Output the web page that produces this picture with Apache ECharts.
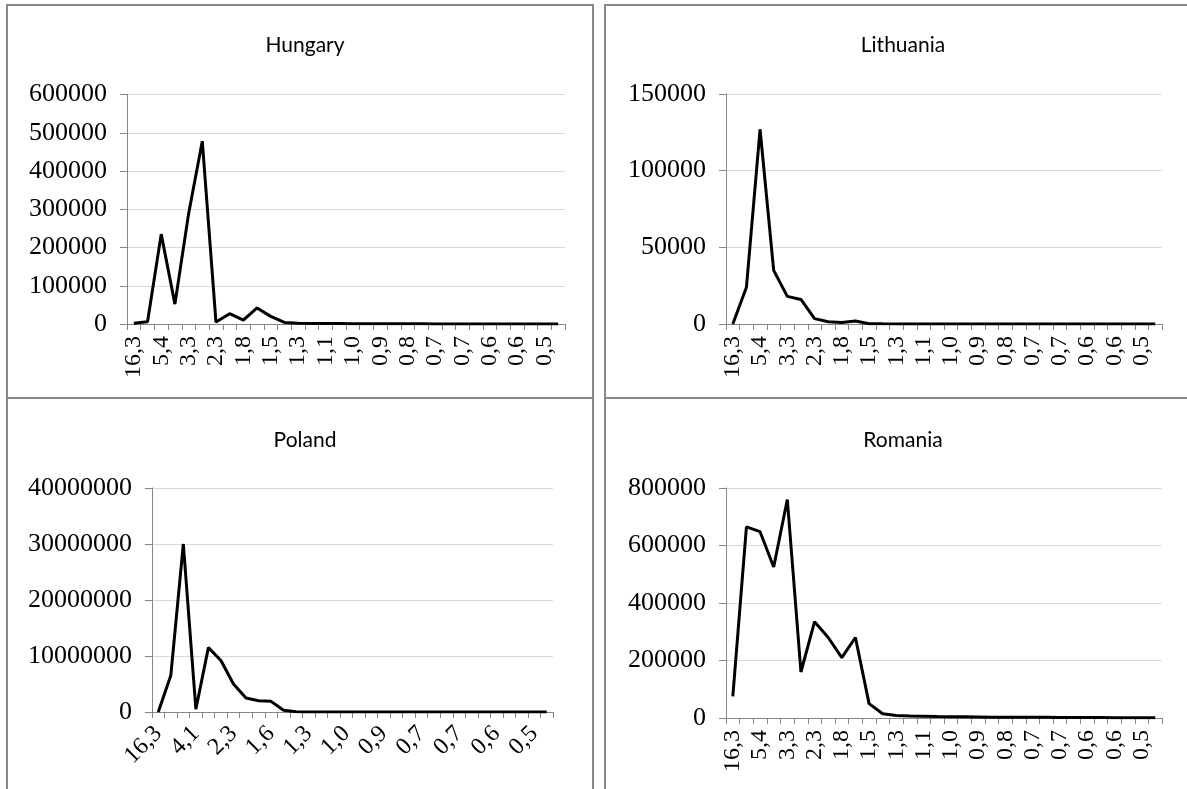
<!DOCTYPE html>
<html>
<head>
<meta charset="utf-8">
<script src="https://cdn.jsdelivr.net/npm/echarts@6/dist/echarts.min.js"></script>
<style>
html,body{margin:0;padding:0;background:#fff;}
#chart{width:1187px;height:789px;}
</style>
</head>
<body>
<div id="chart"></div>
<script>
// Category labels (size classes)
const categories = ["16,3","7,4","5,4","4,1","3,3","2,7","2,3","2,0","1,8","1,6","1,5","1,4","1,3","1,2","1,1","1,0","1,0","0,9","0,9","0,8","0,8","0,7","0,7","0,7","0,7","0,6","0,6","0,6","0,6","0,5","0,5","0,5"];

// Series values
const hungary = [2000,6000,235000,52000,288000,478000,5000,27000,10000,42000,20000,4000,2000,1500,1200,1000,800,700,600,500,400,350,300,250,200,180,160,140,120,100,90,80];
const lithuania = [0,24000,127000,35000,18000,16000,3500,1500,1000,2000,200,100,80,60,50,40,30,30,20,20,20,10,10,10,10,10,10,10,10,10,10,10];
const poland = [0,6500000,30000000,500000,11500000,9200000,5000000,2500000,2000000,1900000,300000,50000,20000,10000,8000,6000,5000,4000,3000,2500,2000,1500,1200,1000,800,600,500,400,300,200,150,100];
const romania = [75000,665000,648000,525000,760000,160000,335000,280000,210000,280000,50000,15000,9000,7000,6000,5000,4500,4000,3500,3000,2800,2600,2400,2200,2000,1800,1600,1400,1200,1000,800,600];

// Axis scales
const hungaryAxis = {max: 600000, interval: 100000};
const lithuaniaAxis = {max: 150000, interval: 50000};
const polandAxis = {max: 40000000, interval: 10000000};
const romaniaAxis = {max: 800000, interval: 200000};

const titles = ["Hungary","Lithuania","Poland","Romania"];

const chart = echarts.init(document.getElementById('chart'), null, {renderer:'canvas'});

const axisGray = '#868686';
const serif = 'Liberation Serif';

const grids = [
  {left:127, top:94.5, width:438, height:229.5},
  {left:726, top:94, width:436, height:230},
  {left:152, top:488, width:401, height:224},
  {left:726, top:488, width:436, height:230}
];

function xAxis(idx, labelInterval, rotate){
  return {
    type:'category', gridIndex:idx, data:categories, boundaryGap:true,
    axisLine:{show:true, lineStyle:{color:axisGray, width:1}},
    axisTick:{show:true, interval:0, length:6, lineStyle:{color:axisGray}},
    axisLabel:{interval:labelInterval, rotate:rotate, margin: rotate===90?12:18,
      fontFamily:serif, fontSize:24, color:'#000'},
    splitLine:{show:false}
  };
}
function yAxis(idx, ax){
  return {
    type:'value', gridIndex:idx, min:0, max:ax.max, interval:ax.interval,
    axisLine:{show:true, lineStyle:{color:axisGray, width:1}},
    axisTick:{show:true, length:7, lineStyle:{color:axisGray}},
    axisLabel:{margin:20, fontFamily:serif, fontSize:26, color:'#000',
      formatter:function(v){return String(v);}},
    splitLine:{show:true, lineStyle:{color:'#d9d9d9', width:1}}
  };
}
function line(idx, data){
  return {type:'line', xAxisIndex:idx, yAxisIndex:idx, data:data, showSymbol:false,
    symbol:'none', lineStyle:{color:'#000', width:3}, itemStyle:{color:'#000'}, silent:true, animation:false};
}

const titleCenters = [[300,45],[898,45],[300,440],[898,440]];

const option = {
  backgroundColor:'#fff',
  animation:false,
  title: titles.map((t,i)=>({
    text:t, left:titleCenters[i][0], top:titleCenters[i][1]-15, textAlign:'center',
    textStyle:{fontFamily:'Lato', fontSize:21, fontWeight:'normal', color:'#000'}
  })),
  grid: grids,
  xAxis:[xAxis(0,1,90), xAxis(1,1,90), xAxis(2,2,45), xAxis(3,1,90)],
  yAxis:[yAxis(0,hungaryAxis), yAxis(1,lithuaniaAxis), yAxis(2,polandAxis), yAxis(3,romaniaAxis)],
  series:[line(0,hungary), line(1,lithuania), line(2,poland), line(3,romania)],
  graphic:[
    {type:'rect', shape:{x:7, y:5, width:586, height:393}, style:{fill:'none', stroke:'#898989', lineWidth:2}},
    {type:'rect', shape:{x:605, y:5, width:600, height:393}, style:{fill:'none', stroke:'#898989', lineWidth:2}},
    {type:'rect', shape:{x:7, y:398, width:586, height:420}, style:{fill:'none', stroke:'#898989', lineWidth:2}},
    {type:'rect', shape:{x:605, y:398, width:600, height:420}, style:{fill:'none', stroke:'#898989', lineWidth:2}}
  ]
};
chart.setOption(option);
</script>
</body>
</html>
